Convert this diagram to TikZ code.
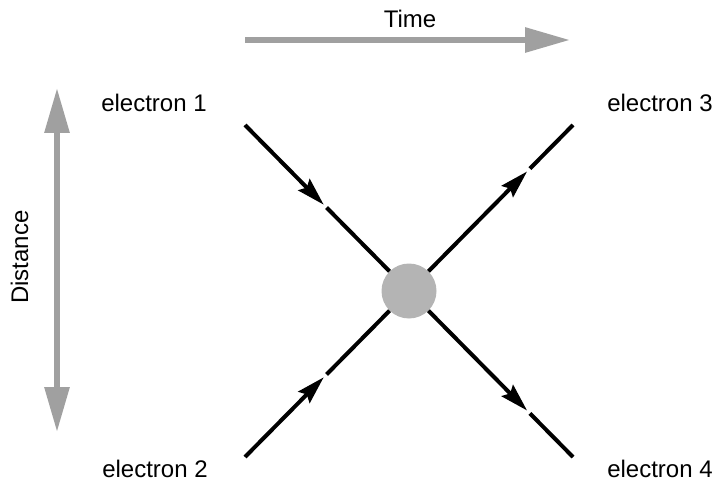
\documentclass[tikz,border=0pt]{standalone}
\usepackage{fontspec}
\setmainfont{Liberation Sans}
\usetikzlibrary{
  arrows.meta,
  calc,
  positioning
}
\definecolor{axisgray}{RGB}{160,160,160}
\definecolor{blobgray}{RGB}{180,180,180}

\begin{document}
\begin{tikzpicture}[
  x=1pt, y=-1pt,
  lbl/.style={font=\fontsize{24}{28}\selectfont, anchor=base, inner sep=0pt},
  axis/.style={axisgray, line width=6pt},
  fline/.style={line width=4pt},
  farr/.style={fline, -{Stealth[length=28pt, width=16pt, inset=4pt]}}
]
  \useasboundingbox (0,0) rectangle (720,481);

  % Interaction vertex
  \node[circle, fill=blobgray, minimum size=55pt, inner sep=0pt] (vx) at (409,291) {};

  % Line ends
  \coordinate (p1) at (245,125);
  \coordinate (p2) at (245,457);
  \coordinate (p3) at (573,125);
  \coordinate (p4) at (573,457);

  % Labels
  \node[lbl] (e1) at (154,112) {electron 1};
  \node[lbl] (e2) at (155,477) {electron 2};
  \node[lbl] (e3) at (660,112) {electron 3};
  \node[lbl] (e4) at (660,477) {electron 4};
  \node[lbl] (time) at (410,28) {Time};
  \node[lbl, rotate=90] (dist) at (28,257) {Distance};

  % Axes
  \coordinate (t0) at (245,40);
  \coordinate (t1) at (570,40);
  \coordinate (d0) at (57,88);
  \coordinate (d1) at (57,432);
  \draw[axis, -{Triangle[length=45pt, width=24pt]}] (t0) -- (t1);
  \draw[axis, {Triangle[length=45pt, width=24pt]}-{Triangle[length=45pt, width=24pt]}] (d0) -- (d1);

  % Incoming electrons
  \coordinate (m1) at ($(p1)!0.48!(vx.center)$);
  \coordinate (m2) at ($(p2)!0.48!(vx.center)$);
  \draw[farr] (p1) -- (m1);
  \draw[fline] ($(m1)!4pt!(vx.center)$) -- (vx);
  \draw[farr] (p2) -- (m2);
  \draw[fline] ($(m2)!4pt!(vx.center)$) -- (vx);

  % Outgoing electrons
  \coordinate (m3) at ($(vx.center)!0.72!(p3)$);
  \coordinate (m4) at ($(vx.center)!0.72!(p4)$);
  \draw[farr] (vx) -- (m3);
  \draw[fline] ($(m3)!4pt!(p3)$) -- (p3);
  \draw[farr] (vx) -- (m4);
  \draw[fline] ($(m4)!4pt!(p4)$) -- (p4);
\end{tikzpicture}
\end{document}
